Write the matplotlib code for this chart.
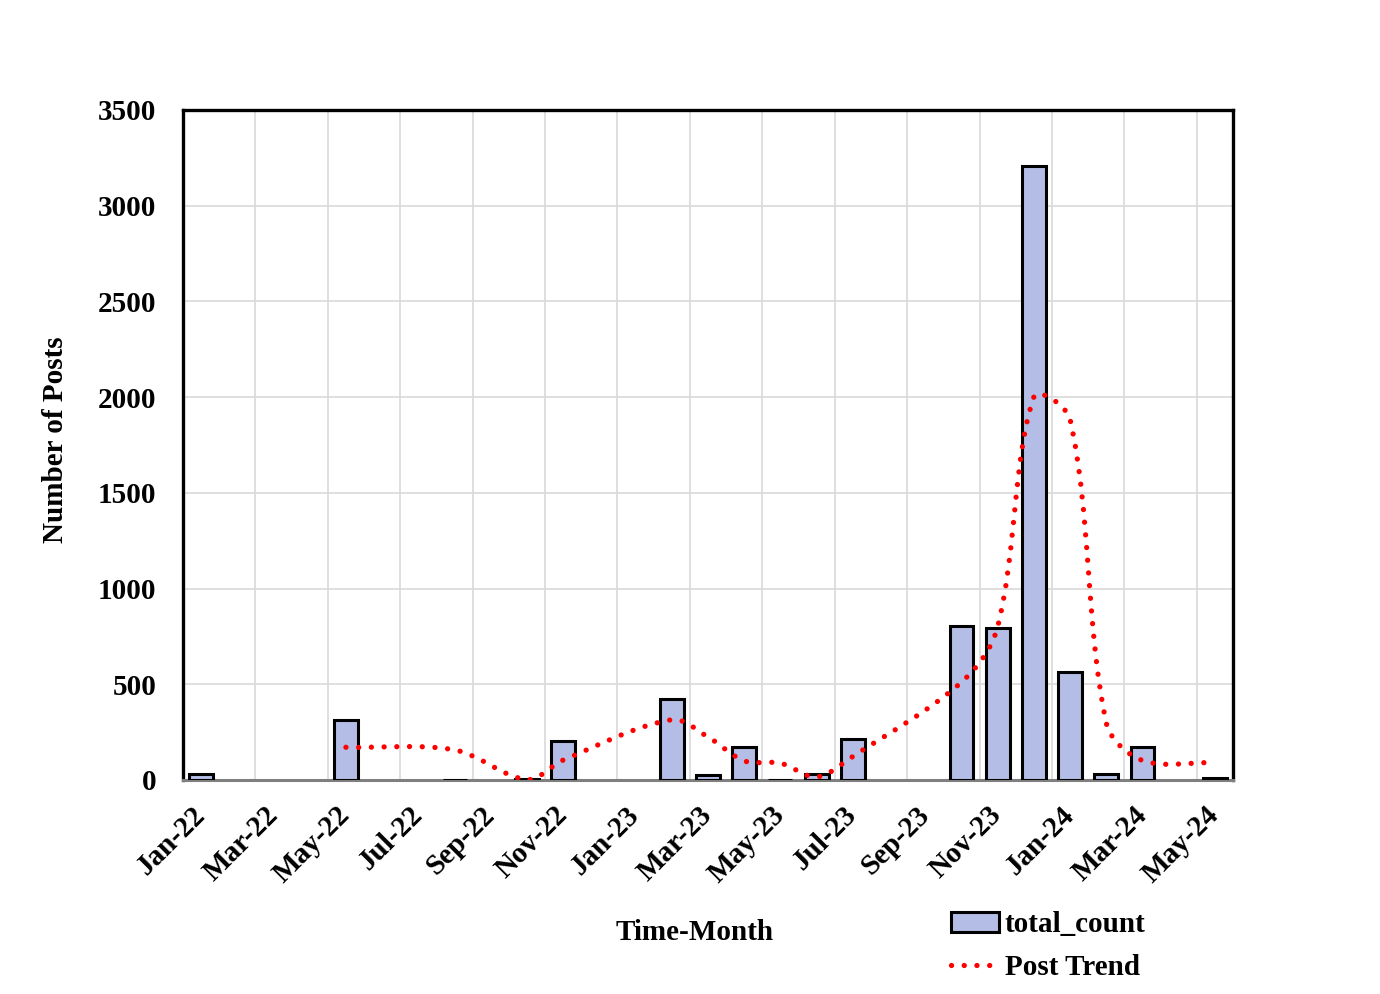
import numpy as np
import matplotlib
matplotlib.use('Agg')
import matplotlib.pyplot as plt
from matplotlib.path import Path
from matplotlib.patches import PathPatch, Patch
from matplotlib.lines import Line2D

# dati
mesi = ['Jan-22', 'Feb-22', 'Mar-22', 'Apr-22', 'May-22', 'Jun-22', 'Jul-22', 'Aug-22',
        'Sep-22', 'Oct-22', 'Nov-22', 'Dec-22', 'Jan-23', 'Feb-23', 'Mar-23', 'Apr-23',
        'May-23', 'Jun-23', 'Jul-23', 'Aug-23', 'Sep-23', 'Oct-23', 'Nov-23', 'Dec-23',
        'Jan-24', 'Feb-24', 'Mar-24', 'Apr-24', 'May-24']
total_count = [30, None, None, None, 312, None, None, 2,
               None, 3, 205, None, None, 425, 25, 174,
               1, 31, 216, None, None, 806, 794, 3208,
               563, 33, 172, None, 10]

# media mobile (Post Trend)
trend_mesi = ['May-22', 'Aug-22', 'Oct-22', 'Nov-22', 'Feb-23', 'Mar-23', 'Apr-23', 'May-23',
              'Jun-23', 'Jul-23', 'Oct-23', 'Nov-23', 'Dec-23', 'Jan-24', 'Feb-24', 'Mar-24', 'May-24']
trend_valori = [171, 157, 2, 104, 315, 225, 100, 88,
                16, 123, 511, 800, 2001, 1885, 298, 102, 91]

colore_barre = '#B3BDE5'
plt.rcParams['font.family'] = ['Liberation Serif', 'DejaVu Serif']
plt.rcParams['font.weight'] = 'bold'
dim_font = 21

fig = plt.figure(figsize=(13.8, 9.94), dpi=100)
ax = fig.add_axes([183 / 1380, 1 - 780 / 994, 1050 / 1380, 670 / 994])

x = np.arange(len(mesi))
valori = np.array([np.nan if v is None else v for v in total_count], dtype=float)
ax.bar(x, valori, width=0.66, color=colore_barre, edgecolor='black', linewidth=2.2, zorder=3)

ax.set_xlim(-0.5, len(mesi) - 0.5)
ax.set_ylim(0, 3500)

# linea smussata tipo Excel: bezier con tangenti pesate sulla lunghezza dei tratti (in pixel)
tx = np.array([mesi.index(m) for m in trend_mesi], dtype=float)
ty = np.array(trend_valori, dtype=float)
sx = 1050 / len(mesi)
sy = 670 / 3500
pts = np.column_stack([tx * sx, ty * sy])
n = len(pts)
fuori = [None] * n
dentro = [None] * n
for i in range(n):
    p0 = pts[i - 1] if i > 0 else pts[i]
    p2 = pts[i + 1] if i < n - 1 else pts[i]
    d0 = np.hypot(*(pts[i] - p0))
    d1 = np.hypot(*(p2 - pts[i]))
    tot = d0 + d1 if d0 + d1 > 0 else 1
    t = p2 - p0
    fuori[i] = pts[i] + t * d1 / tot / 3.0
    dentro[i] = pts[i] - t * d0 / tot / 3.0
verts = [pts[0]]
codes = [Path.MOVETO]
for i in range(n - 1):
    verts += [fuori[i], dentro[i + 1], pts[i + 1]]
    codes += [Path.CURVE4, Path.CURVE4, Path.CURVE4]
verts = np.array(verts) / np.array([sx, sy])
percorso = Path(verts, codes)
stile_punti = (0, (0.01, 2.4))
ax.add_patch(PathPatch(percorso, facecolor='none', edgecolor='#FF0000', linewidth=3.8,
                       linestyle=stile_punti, capstyle='round', zorder=4))

ax.set_yticks(np.arange(0, 3501, 500))
ax.set_xticks(x[::2])
ax.set_xticklabels(mesi[::2], rotation=45, ha='right', va='center', rotation_mode='anchor')
ax.set_xticks(np.arange(-0.5, len(mesi), 2), minor=True)
ax.tick_params(axis='both', which='both', length=0, labelsize=dim_font)
ax.tick_params(axis='x', which='major', pad=22)
ax.tick_params(axis='y', pad=19)
for lab in ax.get_xticklabels() + ax.get_yticklabels():
    lab.set_fontweight('bold')

ax.grid(True, which='minor', axis='x', color='#D9D9D9', linewidth=1.2, zorder=0)
ax.grid(True, which='major', axis='y', color='#D9D9D9', linewidth=1.2, zorder=0)
ax.grid(False, which='major', axis='x')

for lato in ['top', 'left', 'right']:
    ax.spines[lato].set_linewidth(2.4)
    ax.spines[lato].set_color('black')
ax.spines['bottom'].set_linewidth(2.2)
ax.spines['bottom'].set_color('#7F7F7F')

fig.text(695 / 1380, 1 - 932 / 994, 'Time-Month', ha='center', va='center',
         fontsize=dim_font, fontweight='bold')
fig.text(56 / 1380, 1 - 440 / 994, 'Number of Posts', ha='center', va='center',
         rotation=90, fontsize=dim_font, fontweight='bold')

maniglie = [Patch(facecolor=colore_barre, edgecolor='black', linewidth=2.2),
            Line2D([0], [0], color='#FF0000', linewidth=3.8, linestyle=stile_punti,
                   dash_capstyle='round')]
fig.legend(maniglie, ['total_count', 'Post Trend'], loc='center left',
           bbox_to_anchor=(951 / 1380, 1 - 946 / 994), frameon=False,
           prop={'size': dim_font, 'weight': 'bold'}, handlelength=1.65, handletextpad=0.2,
           labelspacing=0.55, borderpad=0, borderaxespad=0)

fig.savefig('out.png', dpi=100)
